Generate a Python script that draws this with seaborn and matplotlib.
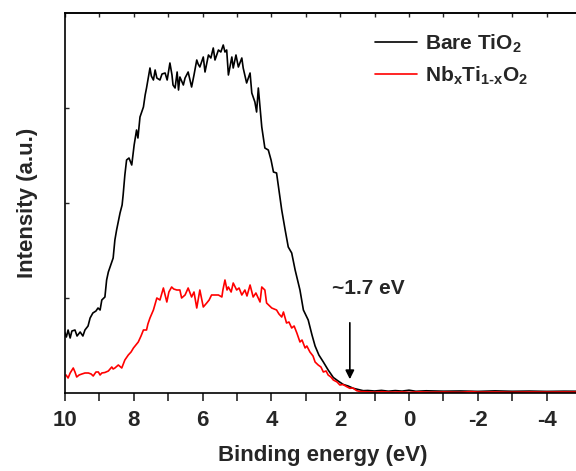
#recreating the valence band spectra comparison plot
import pandas as pd
import seaborn as sns
import matplotlib.pyplot as plt

##### Data #####

bare_energy = [10.00, 9.96, 9.91, 9.85, 9.80, 9.71, 9.65, 9.56, 9.48, 9.42, 9.33, 9.27, 9.19, 9.10,
               9.04, 8.98, 8.93, 8.84, 8.79, 8.74, 8.69, 8.60, 8.55, 8.50, 8.40, 8.34, 8.31, 8.26,
               8.21, 8.14, 8.06, 7.99, 7.92, 7.88, 7.82, 7.72, 7.67, 7.63, 7.53, 7.49, 7.43, 7.38,
               7.33, 7.24, 7.18, 7.09, 7.03, 6.95, 6.89, 6.86, 6.80, 6.74, 6.70, 6.66, 6.56, 6.51,
               6.42, 6.32, 6.25, 6.17, 6.13, 6.08, 5.98, 5.93, 5.83, 5.76, 5.69, 5.64, 5.54, 5.47,
               5.40, 5.35, 5.30, 5.25, 5.15, 5.11, 5.03, 4.96, 4.86, 4.82, 4.72, 4.62, 4.57, 4.48,
               4.43, 4.38, 4.28, 4.19, 4.09, 4.01, 3.94, 3.85, 3.78, 3.70, 3.60, 3.51, 3.41, 3.31,
               3.17, 3.07, 2.93, 2.82, 2.73, 2.62, 2.49, 2.35, 2.20, 2.06, 1.91, 1.77, 1.62, 1.48,
               1.33, 1.20, 1.00, 0.80, 0.60, 0.40, 0.20, 0.00, -0.20, -0.50, -1.00, -1.50, -2.00,
               -2.50, -3.00, -3.50, -4.00, -4.50, -5.00]
bare_intensity = [60, 56, 63, 55, 62, 63, 57, 61, 57, 63, 67, 75, 80, 82,
                  85, 83, 93, 96, 113, 121, 126, 135, 153, 163, 180, 188, 198, 218,
                  233, 235, 228, 248, 263, 255, 276, 286, 298, 305, 325, 317, 313, 323,
                  315, 313, 319, 320, 313, 330, 318, 308, 305, 321, 303, 316, 308, 315,
                  321, 306, 318, 333, 329, 326, 336, 321, 338, 335, 345, 333, 343, 341,
                  348, 341, 343, 318, 336, 325, 338, 326, 335, 325, 310, 320, 300, 291,
                  281, 305, 266, 245, 243, 233, 221, 220, 203, 183, 163, 146, 140, 123,
                  103, 83, 73, 58, 47, 38, 31, 23, 15.5, 12, 8.5, 7, 4.7, 3.5,
                  2.3, 2.5, 2.0, 2.6, 1.8, 2.4, 1.9, 2.8, 1.7, 2.2, 1.8, 2.0, 1.6,
                  2.1, 1.7, 1.9, 1.6, 1.8, 1.7]

nb_energy = [9.97, 9.91, 9.85, 9.76, 9.71, 9.66, 9.59, 9.51, 9.42, 9.32, 9.24, 9.18, 9.10, 9.03,
             8.98, 8.93, 8.84, 8.74, 8.64, 8.60, 8.55, 8.45, 8.35, 8.26, 8.16, 8.08, 8.01, 7.94,
             7.87, 7.79, 7.72, 7.63, 7.59, 7.53, 7.43, 7.33, 7.24, 7.14, 7.04, 6.98, 6.90, 6.84,
             6.75, 6.66, 6.61, 6.51, 6.42, 6.32, 6.25, 6.17, 6.08, 5.98, 5.88, 5.81, 5.74, 5.64,
             5.54, 5.44, 5.41, 5.35, 5.29, 5.25, 5.17, 5.11, 5.01, 4.94, 4.86, 4.77, 4.71, 4.62,
             4.53, 4.45, 4.33, 4.28, 4.19, 4.14, 3.99, 3.85, 3.78, 3.70, 3.65, 3.56, 3.49, 3.41,
             3.34, 3.26, 3.17, 3.11, 3.02, 2.97, 2.88, 2.79, 2.73, 2.64, 2.56, 2.49, 2.41, 2.35,
             2.27, 2.20, 2.09, 2.01, 1.92, 1.81, 1.72, 1.63, 1.52, 1.42, 1.20, 1.00, 0.80, 0.50,
             0.20, 0.00, -0.30, -0.60, -1.00, -1.50, -1.80, -2.00, -2.50, -3.00, -3.50, -4.00,
             -4.50, -5.00]
nb_intensity = [18, 15, 20, 25, 21, 16, 18, 19, 20, 20, 19, 17, 21, 21,
                18, 20, 20.5, 22, 26, 24, 25, 28, 25, 33, 38, 41, 45, 48,
                51, 57, 63, 63, 69, 75, 83, 95, 93, 105, 91, 101, 106, 104,
                103, 103, 95, 98, 105, 96, 101, 85, 103, 86, 90, 93, 98, 98,
                98, 96, 103, 113, 103, 106, 101, 110, 103, 105, 98, 103, 97, 108,
                96, 100, 91, 106, 103, 90, 85, 83, 79, 76, 81, 70, 71, 65,
                67, 60, 51, 53, 45, 47, 41, 37, 31, 28, 26, 21, 22, 18,
                16, 13, 11, 8, 8.5, 6.3, 4.7, 5, 2.3, 1.5, 1.2, 0.8, 1.3, 0.9,
                1.1, 0.7, 1.2, 0.8, 1.0, 0.7, 1.4, 0.9, 1.0, 0.8, 1.0, 0.9,
                1.0, 0.9]

series_names = [r'Bare TiO$_2$', r'Nb$_x$Ti$_{1\text{-}x}$O$_2$']
series_colors = ['black', 'red']

x_ticks = [10, 8, 6, 4, 2, 0, -2, -4]
x_minor_ticks = [9, 7, 5, 3, 1, -1, -3, -5]
y_ticks = [95, 190, 285]

##### Build the long table #####

df = pd.concat([
    pd.DataFrame({'energy': bare_energy, 'intensity': bare_intensity, 'sample': series_names[0]}),
    pd.DataFrame({'energy': nb_energy, 'intensity': nb_intensity, 'sample': series_names[1]}),
], ignore_index=True)

##### Plotting #####

sns.set_style('white')
plt.rcParams['font.family'] = ['Liberation Sans', 'DejaVu Sans']
plt.rcParams['font.weight'] = 'bold'
plt.rcParams['axes.unicode_minus'] = False
plt.rcParams['mathtext.fontset'] = 'custom'
plt.rcParams['mathtext.rm'] = 'Liberation Sans:bold'
plt.rcParams['mathtext.it'] = 'Liberation Sans:bold'
plt.rcParams['mathtext.bf'] = 'Liberation Sans:bold'
plt.rcParams['mathtext.default'] = 'rm'

fig = plt.figure(figsize=(5.76, 4.71), dpi=100)
ax = fig.add_axes([65 / 576, 78 / 471, 516 / 576, 380 / 471])

sns.lineplot(data=df, x='energy', y='intensity', hue='sample', palette=series_colors,
             sort=False, estimator=None, linewidth=1.2, ax=ax)

ax.set_xlim(10, -5)
ax.set_ylim(0, 380)
ax.set_xticks(x_ticks)
ax.set_xticks(x_minor_ticks, minor=True)
ax.set_yticks(y_ticks)
ax.set_yticklabels([])

for side in ['left', 'bottom', 'top', 'right']:
    ax.spines[side].set_color('black')
    ax.spines[side].set_linewidth(1.2)

ax.tick_params(axis='x', which='both', direction='out', length=6, width=1.2,
               labelsize=16, pad=6, bottom=True)
ax.tick_params(axis='y', which='both', direction='in', length=3, width=1.0, left=True)
for lbl in ax.get_xticklabels():
    lbl.set_fontweight('bold')

# small inward ticks along the top frame
top = ax.secondary_xaxis('top')
top.set_xticks(x_ticks)
top.set_xticks(x_minor_ticks, minor=True)
top.tick_params(which='both', direction='in', length=3, width=1.0, labeltop=False)
top.spines['top'].set_linewidth(1.2)

ax.set_xlabel('Binding energy (eV)', fontsize=16, fontweight='bold', labelpad=10)
ax.set_ylabel('Intensity (a.u.)', fontsize=16, fontweight='bold', labelpad=16)

# onset annotation
ax.annotate('', xy=(1.72, 11), xytext=(1.72, 73),
            arrowprops=dict(arrowstyle='-|>', color='black', lw=1.2, mutation_scale=13))
ax.text(2.24, 105, '~1.7 eV', ha='left', va='center', fontsize=15, fontweight='bold')

# legend
leg = ax.legend(loc='upper left', bbox_to_anchor=(0.585, 0.97), frameon=False,
                fontsize=15, handlelength=2.0, handletextpad=0.4, labelspacing=0.45,
                borderaxespad=0)
for line in leg.get_lines():
    line.set_linewidth(1.2)

fig.savefig('out.png', dpi=100)
